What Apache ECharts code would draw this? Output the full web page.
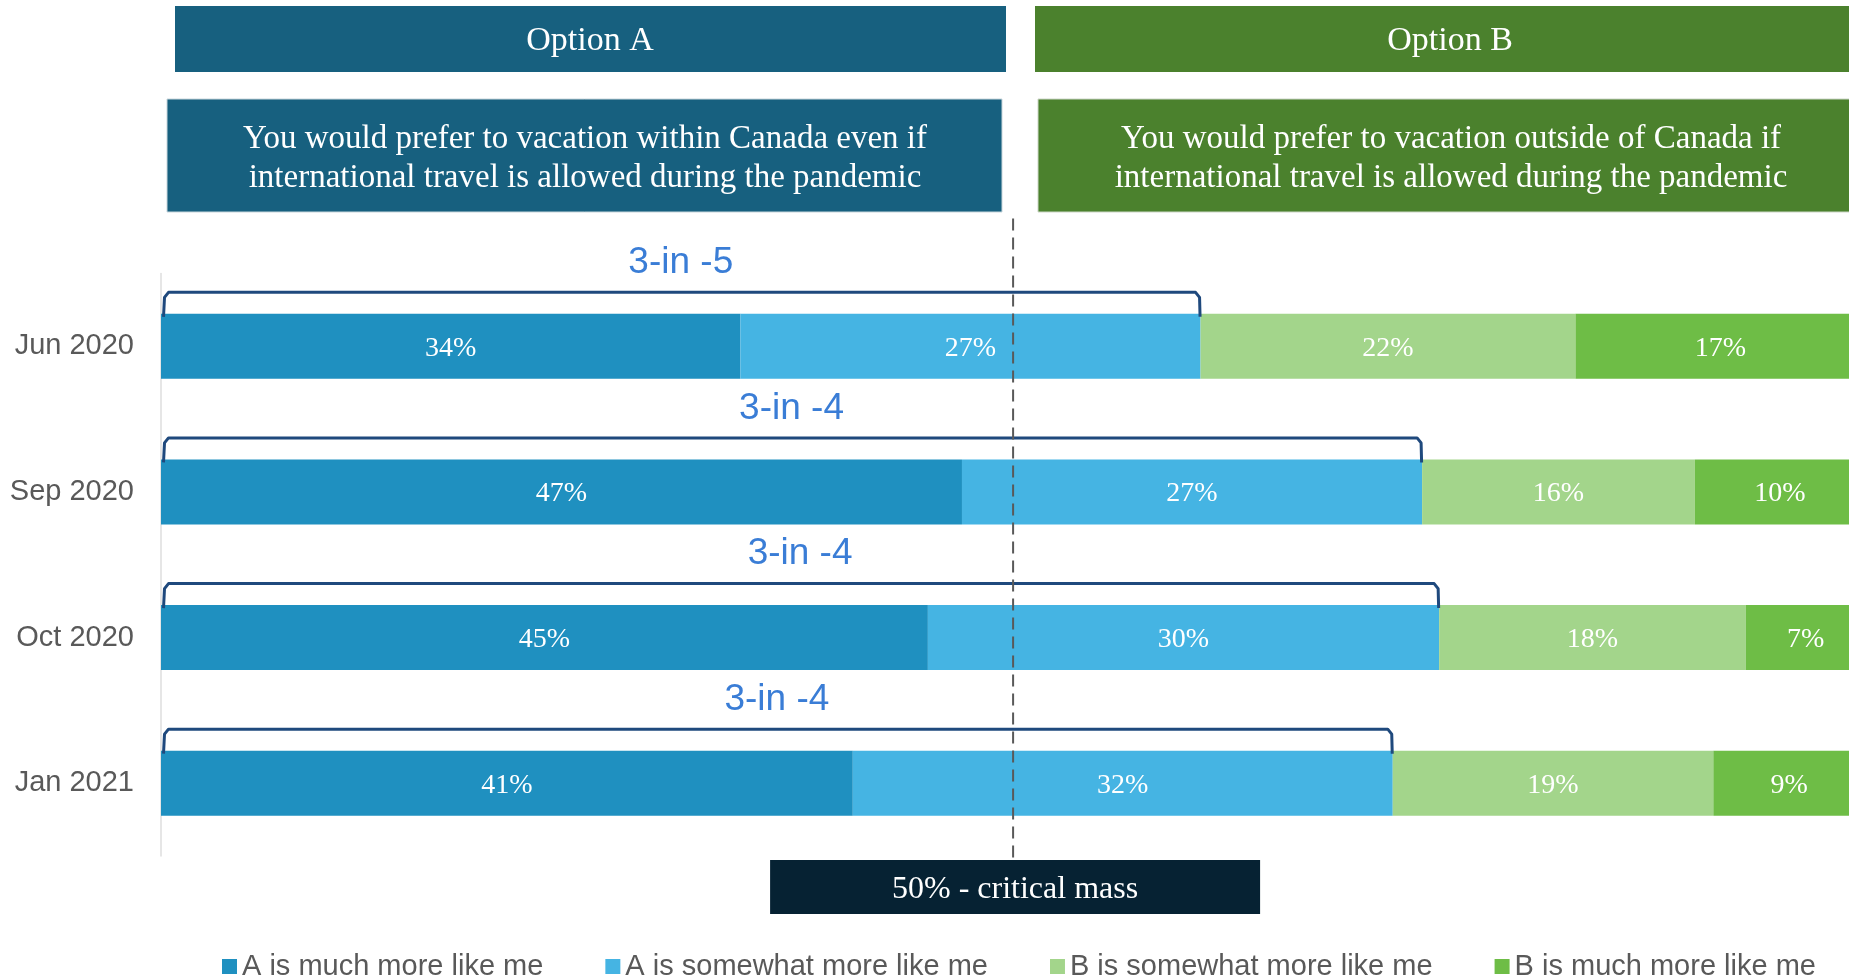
<!DOCTYPE html>
<html>
<head>
<meta charset="utf-8">
<script src="https://cdn.jsdelivr.net/npm/echarts@6/dist/echarts.min.js"></script>
<style>
  html, body { margin: 0; padding: 0; background: #ffffff; }
  #chart { width: 1849px; height: 979px; }
</style>
</head>
<body>
<div id="chart"></div>
<script>
// ---- data ----
const categories = ['Jun 2020', 'Sep 2020', 'Oct 2020', 'Jan 2021'];
const seriesNames = ['A is much more like me', 'A is somewhat more like me', 'B is somewhat more like me', 'B is much more like me'];
const aMuch = [34, 47, 45, 41];
const aSomewhat = [27, 27, 30, 32];
const bSomewhat = [22, 16, 18, 19];
const bMuch = [17, 10, 7, 9];
const callouts = ['3-in -5', '3-in -4', '3-in -4', '3-in -4'];
const criticalMass = 50;
const criticalLabel = '50% - critical mass';
const optionATitle = 'Option A';
const optionBTitle = 'Option B';
const optionAText = 'You would prefer to vacation within Canada even if\ninternational travel is allowed during the pandemic';
const optionBText = 'You would prefer to vacation outside of Canada if\ninternational travel is allowed during the pandemic';

// ---- styles ----
const SERIF = '"Liberation Serif", "Times New Roman", serif';
const SANS = '"Liberation Sans", Arial, sans-serif';
const colors = ['#1f90c0', '#45b4e3', '#a3d58b', '#6ebd46'];
const BAR_W = 65;

const chart = echarts.init(document.getElementById('chart'));

const valueSets = [aMuch, aSomewhat, bSomewhat, bMuch];
// rounded shares of a row can add up to 101; each bar is drawn as a share of its row total
const rowTotals = categories.map((c, i) => valueSets.reduce((s, arr) => s + arr[i], 0));

const barSeries = valueSets.map((vals, k) => ({
  name: seriesNames[k],
  type: 'bar',
  stack: 'total',
  barWidth: BAR_W,
  clip: false,
  data: vals.map((v, i) => ({ value: v * 100 / rowTotals[i], raw: v })),
  itemStyle: { color: colors[k] },
  label: {
    show: true,
    position: 'inside',
    formatter: p => p.data.raw + '%',
    color: '#ffffff',
    fontFamily: SERIF,
    fontSize: 28,
    offset: [0, 2]
  },
  emphasis: { disabled: true },
  z: 2
}));

const bracketData = categories.map((c, i) => [(aMuch[i] + aSomewhat[i]) * 100 / rowTotals[i], i, callouts[i]]);

const bracketSeries = {
  type: 'custom',
  name: 'brackets',
  z: 10,
  silent: true,
  clip: false,
  data: bracketData,
  renderItem: function (params, api) {
    const total = api.value(0);
    const idx = api.value(1);
    const p0 = api.coord([0, idx]);
    const p1 = api.coord([total, idx]);
    const barTop = p0[1] - BAR_W / 2;
    const x0 = p0[0] + 2.5;
    const x1 = p1[0] - 1;
    const yLine = barTop - 21.5;
    return {
      type: 'group',
      children: [
        {
          type: 'polyline',
          shape: {
            points: [[x0, barTop + 3], [x0 + 1, yLine + 5], [x0 + 5, yLine], [x1 - 4, yLine], [x1, yLine + 5], [x1 + 0.5, barTop + 3]]
          },
          style: { stroke: '#1f497d', lineWidth: 3, fill: null, lineJoin: 'round' }
        },
        {
          type: 'text',
          style: {
            text: bracketData[params.dataIndex][2],
            x: (p0[0] + p1[0]) / 2,
            y: barTop - 51,
            align: 'center',
            verticalAlign: 'middle',
            fill: '#3a7dd6',
            font: '37px ' + SANS
          }
        }
      ]
    };
  }
};

const criticalSeries = {
  type: 'custom',
  name: 'critical',
  z: 11,
  silent: true,
  clip: false,
  data: [[criticalMass, 0]],
  renderItem: function (params, api) {
    const cs = params.coordSys;
    const x = api.coord([api.value(0), 0])[0];
    const boxTop = cs.y + cs.height + 4;
    const boxW = 490, boxH = 54;
    return {
      type: 'group',
      children: [
        {
          type: 'line',
          shape: { x1: x, y1: cs.y - 55, x2: x, y2: boxTop },
          style: { stroke: '#595959', lineWidth: 2, lineDash: [12, 7] }
        },
        {
          type: 'rect',
          shape: { x: x + 2 - boxW / 2, y: boxTop, width: boxW, height: boxH },
          style: { fill: '#062233' }
        },
        {
          type: 'text',
          style: {
            text: criticalLabel,
            x: x + 2,
            y: boxTop + boxH / 2 + 3,
            align: 'center',
            verticalAlign: 'middle',
            fill: '#ffffff',
            font: '32px ' + SERIF
          }
        }
      ]
    };
  }
};

const option = {
  animation: false,
  backgroundColor: '#ffffff',
  grid: { left: 161, right: 0, top: 273.5, height: 582.5, containLabel: false },
  xAxis: {
    // the plotted scale runs slightly past the right edge of the picture
    type: 'value', min: 0, max: 99.05, show: false
  },
  yAxis: {
    type: 'category',
    data: categories,
    inverse: true,
    axisLine: { show: true, lineStyle: { color: '#dedede', width: 1.5 } },
    axisTick: { show: false },
    axisLabel: { color: '#595959', fontFamily: SANS, fontSize: 29, margin: 27, padding: [9, 0, 0, 0] }
  },
  legend: {
    data: seriesNames,
    left: 222,
    top: 952,
    padding: 0,
    icon: 'rect',
    itemWidth: 15,
    itemHeight: 15,
    itemGap: 62,
    textStyle: { color: '#595959', fontFamily: SANS, fontSize: 29 },
    selectedMode: false
  },
  graphic: [
    { type: 'rect', shape: { x: 175, y: 6, width: 831, height: 66 }, style: { fill: '#17607f' } },
    { type: 'text', style: { text: optionATitle, x: 590, y: 41, align: 'center', verticalAlign: 'middle', fill: '#ffffff', font: '34px ' + SERIF } },
    { type: 'rect', shape: { x: 1035, y: 6, width: 830, height: 66 }, style: { fill: '#4b812d' } },
    { type: 'text', style: { text: optionBTitle, x: 1450, y: 41, align: 'center', verticalAlign: 'middle', fill: '#ffffff', font: '34px ' + SERIF } },
    { type: 'rect', shape: { x: 167, y: 99, width: 835, height: 113 }, style: { fill: '#17607f', stroke: '#c9d6dc', lineWidth: 1 } },
    { type: 'text', style: { text: optionAText, x: 585, y: 159, align: 'center', verticalAlign: 'middle', fill: '#ffffff', font: '33px ' + SERIF, lineHeight: 39 } },
    { type: 'rect', shape: { x: 1038, y: 99, width: 826, height: 113 }, style: { fill: '#4b812d', stroke: '#cdd6c8', lineWidth: 1 } },
    { type: 'text', style: { text: optionBText, x: 1451, y: 159, align: 'center', verticalAlign: 'middle', fill: '#ffffff', font: '33px ' + SERIF, lineHeight: 39 } }
  ],
  series: barSeries.concat([bracketSeries, criticalSeries])
};

chart.setOption(option);
</script>
</body>
</html>
